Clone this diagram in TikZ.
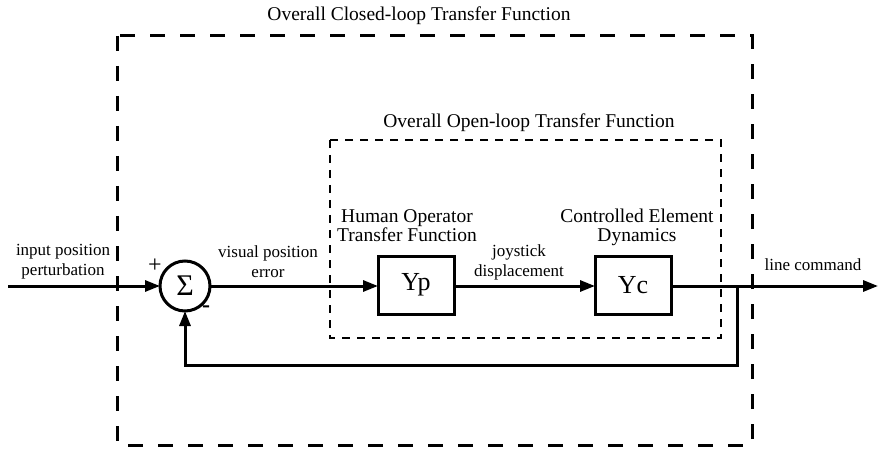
\documentclass[tikz,border=0pt]{standalone}
\usepackage{fontspec}
\setmainfont{Liberation Serif}
\usetikzlibrary{arrows.meta}
\tikzset{
  every node/.style={inner sep=0pt, outer sep=0pt},
  bigtxt/.style={font=\fontsize{19.5}{19}\selectfont, align=center, anchor=base},
  smalltxt/.style={font=\fontsize{17}{19.5}\selectfont, align=center, anchor=base},
  blockbox/.style={draw, line width=3pt, minimum width=76pt, minimum height=58pt, font=\fontsize{26}{26}\selectfont},
  sumnode/.style={draw, circle, line width=3pt, minimum size=50pt, font=\fontsize{30}{30}\selectfont},
  sig/.style={line width=3pt},
  arr/.style={sig, -{Triangle[length=15pt,width=11pt]}},
  outerbox/.style={line width=3pt, dash pattern=on 15pt off 15pt},
  innerbox/.style={line width=1.6pt, dash pattern=on 8pt off 7pt},
}
\begin{document}
\begin{tikzpicture}[x=1pt,y=-1pt]
\useasboundingbox (0,0) rectangle (878,449);
% dashed frames
\draw[outerbox] (117,36) rectangle (752,445);
\draw[innerbox] (330,140) rectangle (721,338);
% titles
\node[bigtxt] (tclosed) at (419,21) {Overall Closed-loop Transfer Function};
\node[bigtxt] (topen) at (529,128) {Overall Open-loop Transfer Function};
% blocks
\node[sumnode] (sum) at (185,286) {Σ};
\node[blockbox] (yp) at (416,285) {Yp};
\node[blockbox] (yc) at (633,285) {Yc};
% coordinates
\coordinate (in) at (8,286);
\coordinate (out) at (878,286);
\coordinate (branch) at (737,286);
\coordinate (fb) at (737,365);
% connectors
\draw[arr] (in) -- (sum.west);
\draw[arr] (sum.east) -- (yp.west |- sum.east);
\draw[arr] (yp.east |- sum.east) -- (yc.west |- sum.east);
\draw[arr] (yc.east |- sum.east) -- (out);
\draw[arr] (branch) -- (fb) -| (sum.south);
% labels
\node[bigtxt] (lhuman) at (407,241) {Human Operator\\Transfer Function};
\node[bigtxt] (lctrl) at (637,241) {Controlled Element\\Dynamics};
\node[smalltxt] (ljoy) at (519,276) {joystick\\displacement};
\node[smalltxt] (lvis) at (268,277) {visual position\\error};
\node[smalltxt] (linp) at (63,275) {input position\\perturbation};
\node[smalltxt] (lline) at (813,270) {line command};
\node[font=\fontsize{24}{24}\selectfont] (plus) at (155,266) {+};
\node[font=\fontsize{24}{24}\selectfont\bfseries] (minus) at (206,309) {-};
\end{tikzpicture}
\end{document}
